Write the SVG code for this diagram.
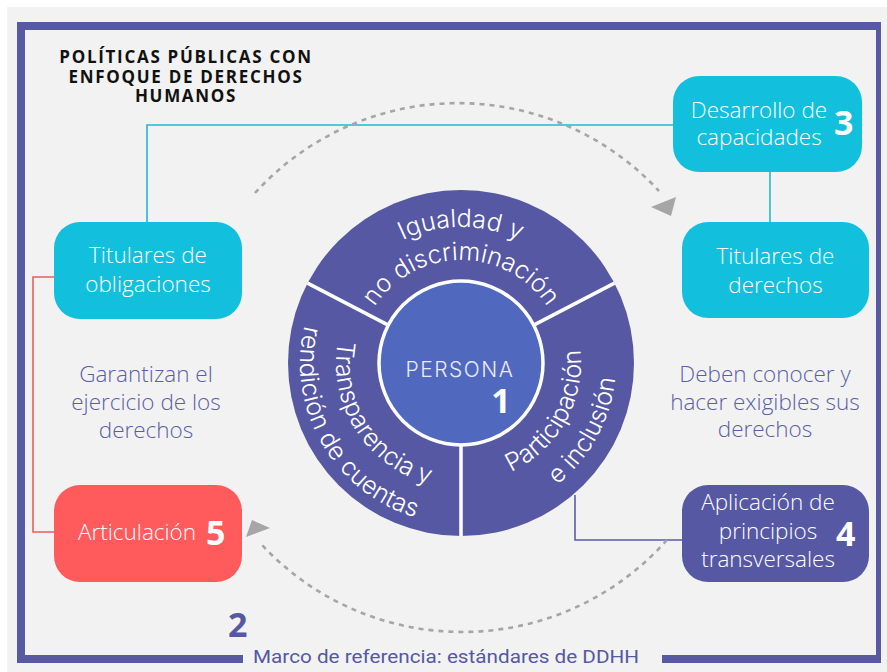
<svg xmlns="http://www.w3.org/2000/svg" width="887" height="672" viewBox="0 0 887 672">
<style>
.bt{font-family:'Open Sans','Liberation Sans',sans-serif;font-size:22.5px;font-weight:300;fill:#fff;text-anchor:middle}
.num{font-family:'Open Sans','Liberation Sans',sans-serif;font-size:34px;font-weight:700;fill:#fff}
.side{font-family:'Open Sans','Liberation Sans',sans-serif;font-size:22.5px;font-weight:300;fill:#5b5da8;text-anchor:middle}
.ring{font-family:Inter,'Liberation Sans',sans-serif;font-size:25px;font-weight:300;fill:#fff}
.ttl{font-family:'Open Sans','Liberation Sans',sans-serif;font-size:17px;font-weight:700;fill:#111;text-anchor:middle;letter-spacing:1.7px}
.dash{fill:none;stroke:#a6a6a6;stroke-width:2.6;stroke-dasharray:5 5}
.cyan{fill:#12c0de}
</style>
<defs>
<path id="pTop1" d="M333.2,316.5 A136,136 0 0,1 588.8,316.5"/>
<path id="pTop2" d="M364.2,327.8 A103,103 0 0,1 557.8,327.8"/>
<path id="pL1" d="M343.5,320.3 A125,125 0 0,0 450.1,487.5"/>
<path id="pL2" d="M315.1,295.0 A161,161 0 0,0 447.0,523.4"/>
<path id="pR1" d="M471.5,482.5 A120,120 0 0,0 568.9,310.4"/>
<path id="pR2" d="M474.5,517.4 A155,155 0 0,0 598.4,291.2"/>
</defs>
<rect x="0" y="0" width="887" height="672" fill="#ffffff"/>
<rect x="7" y="7" width="880" height="665" fill="#f2f2f2"/>
<g id="frame" fill="none" stroke="#5759a3">
<path d="M243,659 H21 V26 H879" stroke-width="8"/>
<path d="M878.5,22 V663" stroke-width="5"/>
<path d="M662,659 H881" stroke-width="8"/>
</g>
<g id="title">
<text class="ttl" x="186" y="63">POLÍTICAS PÚBLICAS CON</text>
<text class="ttl" x="186" y="83">ENFOQUE DE DERECHOS</text>
<text class="ttl" x="186" y="102">HUMANOS</text>
</g>
<g id="connectors" fill="none" stroke-width="1.6">
<path d="M673,125 H147 V222" stroke="#1bbad6"/>
<path d="M770,172 V222" stroke="#1bbad6"/>
<path d="M54,277 H33 V532 H54" stroke="#f05a5c"/>
<path d="M575,495 V540 H682" stroke="#5a5ca8"/>
<path class="dash" d="M255,193 A274,274 0 0,1 659,191"/>
<path class="dash" d="M667,540 A274,274 0 0,1 262,545"/>
<polygon points="676,197 651,207 671,216" fill="#a6a6a6" stroke="none"/>
<polygon points="252,520 246,537 270,528" fill="#a6a6a6" stroke="none"/>
</g>
<g id="wheel">
<circle cx="461" cy="363" r="173" fill="#5658a3"/>
<g stroke="#fff" stroke-width="3.5">
<line x1="388.3" y1="325.1" x2="307.5" y2="283.1"/>
<line x1="533.7" y1="325.1" x2="614.5" y2="283.1"/>
<line x1="461" y1="445" x2="461" y2="536"/>
</g>
<text class="ring"><textPath href="#pTop1" startOffset="50%" text-anchor="middle">Igualdad y</textPath></text>
<text class="ring"><textPath href="#pTop2" startOffset="50%" text-anchor="middle">no discriminación</textPath></text>
<text class="ring"><textPath href="#pL1" startOffset="50%" text-anchor="middle">Transparencia y</textPath></text>
<text class="ring"><textPath href="#pL2" startOffset="50%" text-anchor="middle">rendición de cuentas</textPath></text>
<text class="ring"><textPath href="#pR1" startOffset="50%" text-anchor="middle">Participación</textPath></text>
<text class="ring"><textPath href="#pR2" startOffset="50%" text-anchor="middle">e inclusión</textPath></text>
</g>
<g id="persona">
<circle cx="461" cy="363" r="82" fill="#5068be" stroke="#fff" stroke-width="3.5"/>
<text x="460" y="377" font-family="Inter,'Liberation Sans',sans-serif" font-size="21" font-weight="300" fill="#e9eaf7" text-anchor="middle" letter-spacing="1.5">PERSONA</text>
<text x="501" y="413" font-family="'Open Sans','Liberation Sans',sans-serif" font-size="34" font-weight="700" fill="#fff" text-anchor="middle">1</text>
</g>
<g id="desarrollo">
<rect x="673" y="76" width="189" height="96" rx="26" class="cyan"/>
<text class="bt" x="759" y="118">Desarrollo de</text>
<text class="bt" x="759" y="145">capacidades</text>
<text class="num" x="834" y="135">3</text>
</g>
<g id="titulares-derechos">
<rect x="682" y="222" width="187" height="96" rx="26" class="cyan"/>
<text class="bt" x="775.5" y="264">Titulares de</text>
<text class="bt" x="775.5" y="293">derechos</text>
</g>
<g id="titulares-obligaciones">
<rect x="54" y="222" width="188" height="97" rx="26" class="cyan"/>
<text class="bt" x="148" y="263">Titulares de</text>
<text class="bt" x="148" y="292">obligaciones</text>
</g>
<g id="aplicacion">
<rect x="682" y="485" width="187" height="97" rx="26" fill="#5658a3"/>
<text class="bt" x="768" y="510">Aplicación de</text>
<text class="bt" x="768" y="539">principios</text>
<text class="bt" x="768" y="567">transversales</text>
<text class="num" x="836" y="546">4</text>
</g>
<g id="articulacion">
<rect x="54" y="485" width="188" height="97" rx="26" fill="#ff5a5c"/>
<text class="bt" x="137" y="540">Articulación</text>
<text class="num" x="206" y="545">5</text>
</g>
<g id="garantizan">
<text class="side" x="146" y="382">Garantizan el</text>
<text class="side" x="146" y="410">ejercicio de los</text>
<text class="side" x="146" y="438">derechos</text>
</g>
<g id="deben">
<text class="side" x="765" y="382">Deben conocer y</text>
<text class="side" x="765" y="410">hacer exigibles sus</text>
<text class="side" x="765" y="437">derechos</text>
</g>
<g id="marco">
<text x="228" y="637" font-family="'Open Sans','Liberation Sans',sans-serif" font-size="34" font-weight="700" fill="#5658a3">2</text>
<text x="253" y="663" font-family="Roboto,'Liberation Sans',sans-serif" font-size="19" fill="#5558a3" textLength="386" lengthAdjust="spacingAndGlyphs">Marco de referencia: estándares de DDHH</text>
</g>
</svg>
